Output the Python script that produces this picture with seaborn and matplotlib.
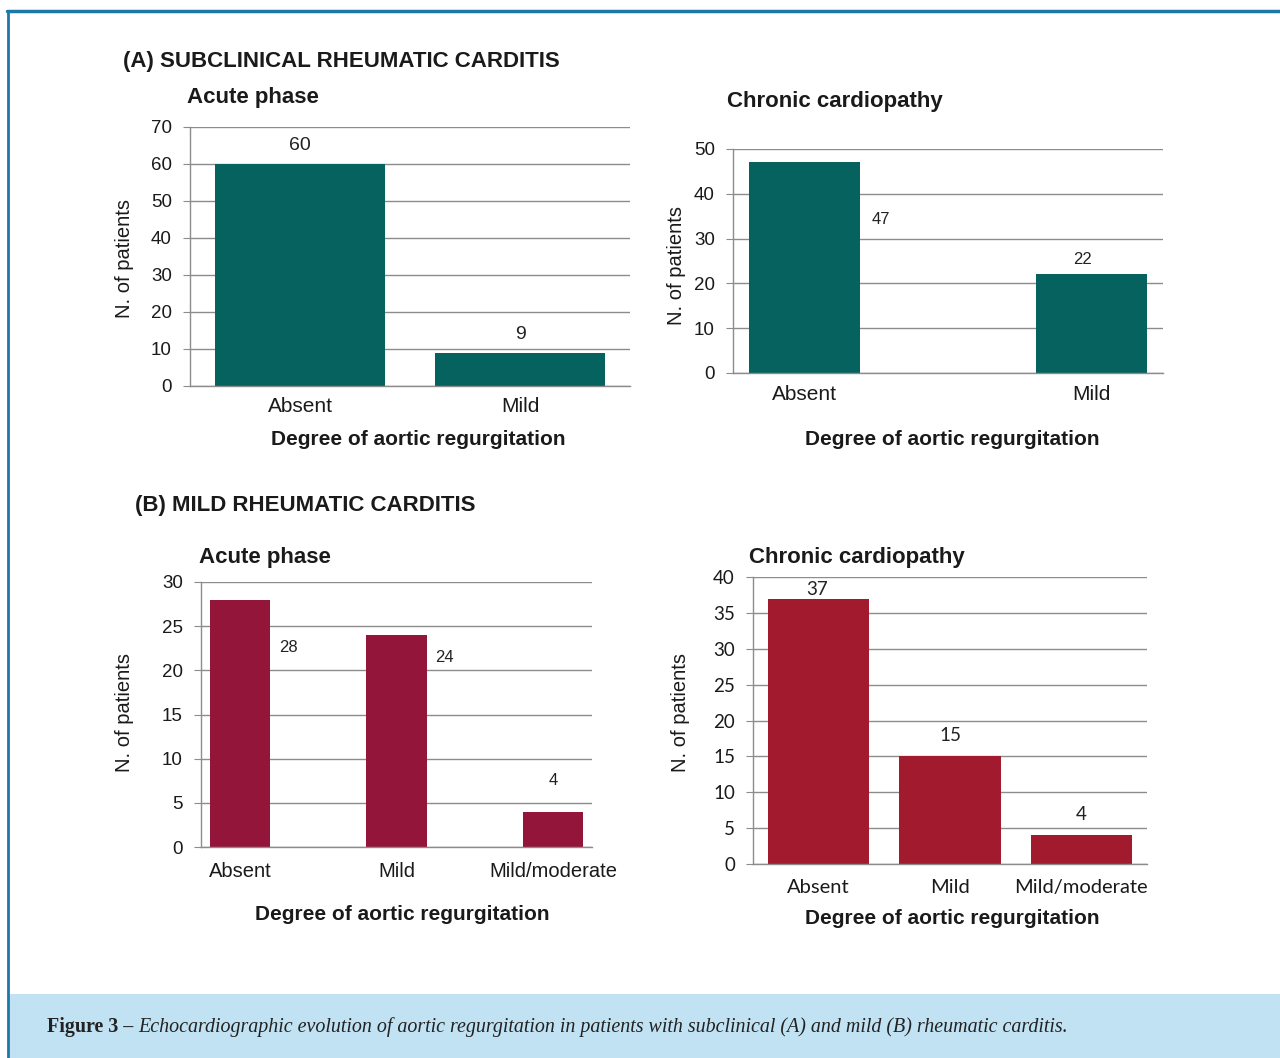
import matplotlib
matplotlib.use('Agg')
import matplotlib.pyplot as plt
import numpy as np
import seaborn as sns
from matplotlib.lines import Line2D
from matplotlib.patches import Rectangle

# Values
a_acute_cats = ['Absent', 'Mild']
a_acute_vals = [60, 9]
a_chronic_cats = ['Absent', 'Mild']
a_chronic_vals = [47, 22]
b_acute_cats = ['Absent', 'Mild', 'Mild/moderate']
b_acute_vals = [28, 24, 4]
b_chronic_cats = ['Absent', 'Mild', 'Mild/moderate']
b_chronic_vals = [37, 15, 4]

W, H = 1280, 1058
TEAL = '#05625f'
WINE = '#93153a'
RED = '#a11a2d'
GRID = '#8c8c8c'

sns.set_style('white')
plt.rcParams['font.family'] = ['Liberation Sans', 'DejaVu Sans']
NARROW = ['Liberation Sans Narrow', 'Liberation Sans', 'DejaVu Sans']

fig = plt.figure(figsize=(W / 100, H / 100), dpi=100)


def fx(x):
    return x / W


def fy(y):
    return 1 - y / H


def axes_px(x0, y0, x1, y1):
    return fig.add_axes([x0 / W, 1 - y1 / H, (x1 - x0) / W, (y1 - y0) / H])


def draw(ax, cats, vals, order, color, ymax, ystep, offsets, tick_font, val_font,
         val_size, xpad=9, xsize=15):
    sns.barplot(x=cats, y=vals, order=order, color=color, saturation=1,
                width=0.77, linewidth=0, ax=ax)
    n = len(order)
    ax.set_xlim(-0.5, n - 0.5)
    ax.set_ylim(0, ymax)
    ax.set_yticks(np.arange(0, ymax + 1, ystep))
    ax.yaxis.grid(True, color=GRID, lw=1)
    ax.set_axisbelow(True)
    for s in ['top', 'right']:
        ax.spines[s].set_visible(False)
    for s in ['left', 'bottom']:
        ax.spines[s].set_color(GRID)
        ax.spines[s].set_linewidth(1)
    ax.set_xticks(np.arange(-0.5, n), minor=True)
    ax.tick_params(axis='x', which='major', length=0, pad=xpad, labelsize=xsize,
                   labelcolor='#1a1a1a')
    ax.tick_params(axis='x', which='minor', length=5, color=GRID, direction='out')
    ax.tick_params(axis='y', length=5, color=GRID, direction='out', pad=8,
                   labelsize=13.5, labelcolor='#1a1a1a', left=True)
    for lab in ax.get_xticklabels() + ax.get_yticklabels():
        lab.set_family(tick_font)
    ax.set_xlabel('')
    ax.set_ylabel('')
    bars = [p for p in ax.patches if p.get_height() > 0]
    bars.sort(key=lambda p: p.get_x())
    for p, v, (dx, dy) in zip(bars, vals, offsets):
        ax.annotate(str(v), (p.get_x() + p.get_width() / 2, p.get_height()),
                    xytext=(dx, dy), textcoords='offset pixels',
                    ha='center', va='center', fontsize=val_size,
                    family=val_font, color='#222222')


def titles(x_title, y_title, title, x_lab, y_lab, x_ylab, y_ylab):
    fig.text(fx(x_title), fy(y_title), title, fontsize=16, fontweight='bold',
             ha='left', va='center', color='#1a1a1a')
    fig.text(fx(x_lab), fy(y_lab), 'Degree of aortic regurgitation', fontsize=15,
             fontweight='bold', ha='center', va='center', color='#1a1a1a')
    fig.text(fx(x_ylab), fy(y_ylab), 'N. of patients', fontsize=14.5, rotation=90,
             ha='center', va='center', color='#1a1a1a')


# frame and caption band
fig.add_artist(Line2D([fx(7), fx(1280)], [fy(11), fy(11)], color='#1b78a8', lw=2.5))
fig.add_artist(Line2D([fx(8), fx(8)], [fy(11), fy(1058)], color='#1b78a8', lw=2))
fig.add_artist(Rectangle((fx(9), 0), 1 - fx(9), fy(994), color='#c1e2f3', lw=0))

# (A) acute
ax1 = axes_px(190, 127, 630, 386)
draw(ax1, a_acute_cats, a_acute_vals, ['Absent', 'Mild'], TEAL, 70, 10,
     [(0, 18), (0, 18)], ['Liberation Sans', 'DejaVu Sans'], NARROW, 14, xpad=8)
# (A) chronic
ax2 = axes_px(733, 149, 1163, 373)
draw(ax2, a_chronic_cats, a_chronic_vals, ['Absent', '', 'Mild'], TEAL, 50, 10,
     [(76, -57), (-9, 15)], ['Liberation Sans', 'DejaVu Sans'], NARROW, 12, xpad=9)
# (B) acute
ax3 = axes_px(201, 582, 592, 847)
draw(ax3, b_acute_cats, b_acute_vals, ['Absent', '', 'Mild', ' ', 'Mild/moderate'], WINE, 30, 5,
     [(48, -48), (48, -22), (0, 31)], ['Liberation Sans', 'DejaVu Sans'], NARROW, 12,
     xpad=11, xsize=14.5)
# (B) chronic
ax4 = axes_px(753, 577, 1147, 864)
draw(ax4, b_chronic_cats, b_chronic_vals, b_chronic_cats, RED, 40, 5,
     [(-2, 9), (0, 21), (0, 21)], ['Lato', 'DejaVu Sans'], ['Lato', 'DejaVu Sans'], 13.5,
     xpad=11, xsize=14.5)

fig.text(fx(123), fy(61), '(A) SUBCLINICAL RHEUMATIC CARDITIS', fontsize=16,
         fontweight='bold', ha='left', va='center', color='#1a1a1a')
fig.text(fx(135), fy(505), '(B) MILD RHEUMATIC CARDITIS', fontsize=16,
         fontweight='bold', ha='left', va='center', color='#1a1a1a')

titles(187, 97, 'Acute phase', 418, 439, 125, 258)
titles(727, 102, 'Chronic cardiopathy', 952, 439, 676, 265)
titles(199, 558, 'Acute phase', 402, 914, 125, 713)
titles(749, 558, 'Chronic cardiopathy', 952, 919, 681, 713)

# caption
cap_bold = fig.text(fx(47), fy(1027), 'Figure 3 \u2013 ', fontsize=14.4, fontweight='bold',
                    family=['Liberation Serif', 'DejaVu Serif'], ha='left', va='center',
                    color='#222222')
r = fig.canvas.get_renderer()
bb = cap_bold.get_window_extent(renderer=r)
fig.text(bb.x1 / W, fy(1027),
         'Echocardiographic evolution of aortic regurgitation in patients with '
         'subclinical (A) and mild (B) rheumatic carditis.',
         fontsize=14.4, style='italic', family=['Liberation Serif', 'DejaVu Serif'],
         ha='left', va='center', color='#222222')

fig.savefig('out.png', dpi=100)
